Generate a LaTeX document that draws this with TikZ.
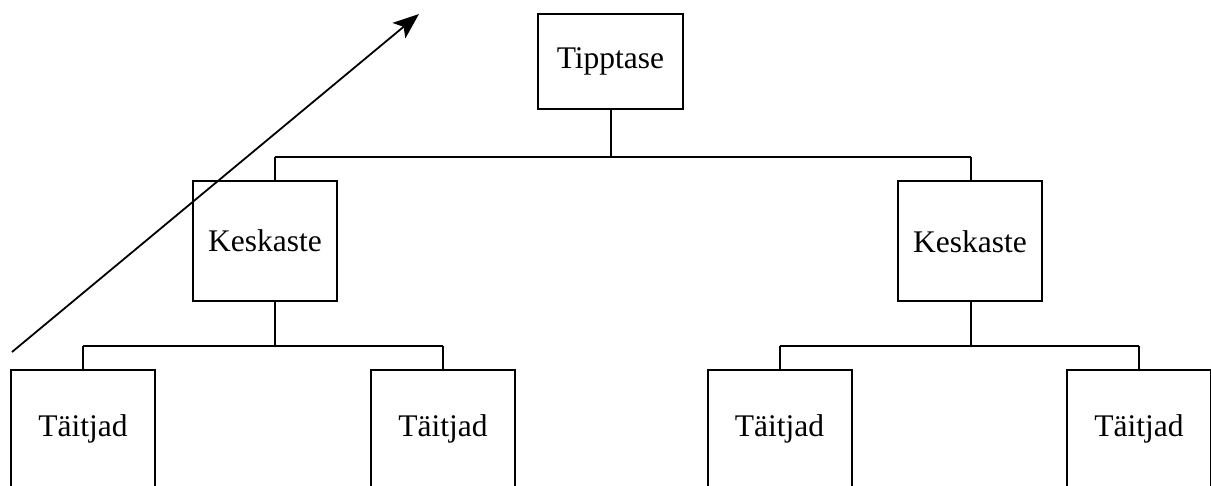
\documentclass[tikz,border=0pt]{standalone}
\usepackage{fontspec}
\setmainfont{Liberation Serif}
\usetikzlibrary{arrows.meta}
\begin{document}
\begin{tikzpicture}[x=1pt,y=-1pt,line width=2pt,
  orgbox/.style={draw,inner sep=0pt,minimum width=144pt,
    font=\fontsize{31.5}{36}\selectfont},
  topbox/.style={orgbox,minimum width=145pt,minimum height=95pt},
  midbox/.style={orgbox,minimum height=120pt},
  leafbox/.style={orgbox,minimum height=118pt},
  link/.style={line cap=rect}]
\useasboundingbox (0,0) rectangle (1211,486);
\clip (0,0) rectangle (1211,486);

% top level
\node[topbox] (top) at (610.5,61.5) {Tipptase};

% middle level
\node[midbox] (kl) at (265,241) {Keskaste};
\node[midbox] (kr) at (970,241.5) {Keskaste};

% leaf level (boxes run off the lower edge)
\node[leafbox] (t1) at (83,429) {Täitjad};
\node[leafbox] (t2) at (443,429) {Täitjad};
\node[leafbox] (t3) at (779.5,429) {Täitjad};
\node[leafbox] (t4) at (1139,429) {Täitjad};

% bus lines
\coordinate (busL) at (275,157);
\coordinate (busR) at (971,157);
\coordinate (subL) at (275,346);
\coordinate (subR) at (971,346);

\draw (top.south) -- (top.south |- busL);
\draw (busL) -- (busR);
\draw (busL) -- (busL |- kl.north);
\draw (busR) -- (busR |- kr.north);

\draw (subL |- kl.south) -- (subL);
\draw (t1.north |- subL) -- (t2.north |- subL);
\draw (t1.north |- subL) -- (t1.north);
\draw (t2.north |- subL) -- (t2.north);

\draw (subR |- kr.south) -- (subR);
\draw (t3.north |- subR) -- (t4.north |- subR);
\draw (t3.north |- subR) -- (t3.north);
\draw (t4.north |- subR) -- (t4.north);

% diagonal arrow
\coordinate (arrS) at (12,352);
\coordinate (arrE) at (419,14);
\draw[line width=1.8pt,-{Stealth[length=26pt,width=20pt,inset=6pt]}] (arrS) -- (arrE);
\end{tikzpicture}
\end{document}
